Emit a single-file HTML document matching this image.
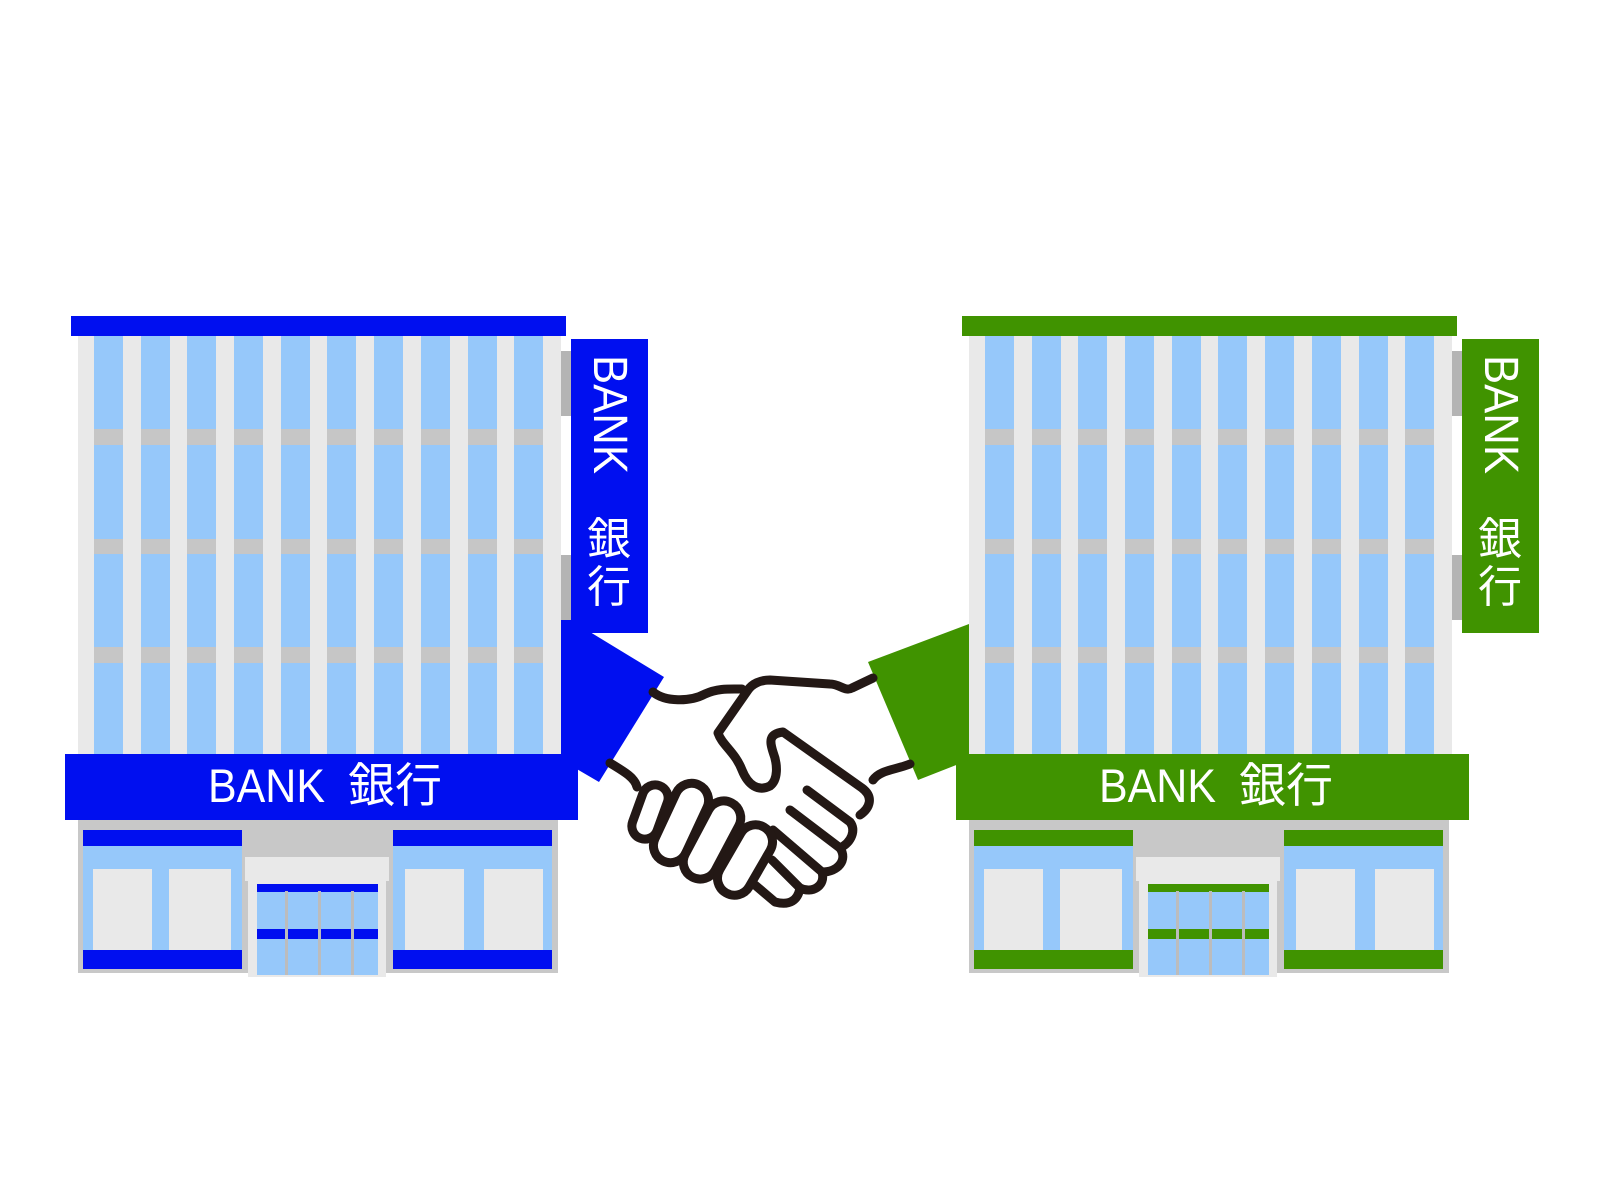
<!DOCTYPE html>
<html><head><meta charset="utf-8"><style>
html,body{margin:0;padding:0;background:#fff;width:1600px;height:1200px;overflow:hidden}
svg{display:block}
text{font-family:"Liberation Sans","Noto Sans CJK JP",sans-serif;fill:#fff}
</style></head><body>
<svg width="1600" height="1200" viewBox="0 0 1600 1200" xmlns="http://www.w3.org/2000/svg">
<defs>
<g id="bldg">
  <rect x="78" y="336" width="483" height="418" fill="#e9e9e9"/>
  <g fill="#96c8fa">
    <rect x="94" y="336" width="29" height="418"/><rect x="141" y="336" width="29" height="418"/>
    <rect x="187" y="336" width="29" height="418"/><rect x="234" y="336" width="29" height="418"/>
    <rect x="281" y="336" width="29" height="418"/><rect x="327" y="336" width="29" height="418"/>
    <rect x="374" y="336" width="29" height="418"/><rect x="421" y="336" width="29" height="418"/>
    <rect x="468" y="336" width="29" height="418"/><rect x="514" y="336" width="29" height="418"/>
  </g>
  <g fill="#c6c6c6">
    <rect x="94" y="429" width="449" height="16"/><rect x="94" y="539" width="449" height="15"/><rect x="94" y="647" width="449" height="16"/>
  </g>
  <g fill="#e9e9e9">
    <rect x="123" y="429" width="18" height="236"/><rect x="170" y="429" width="17" height="236"/><rect x="216" y="429" width="18" height="236"/>
    <rect x="263" y="429" width="18" height="236"/><rect x="310" y="429" width="17" height="236"/><rect x="356" y="429" width="18" height="236"/>
    <rect x="403" y="429" width="18" height="236"/><rect x="450" y="429" width="18" height="236"/><rect x="497" y="429" width="17" height="236"/>
  </g>
  <rect x="561" y="351" width="10" height="65" fill="#b4b4b4"/>
  <rect x="561" y="555" width="10" height="65" fill="#b4b4b4"/>
  <rect x="78" y="815" width="480" height="158" fill="#c8c8c8"/>
  <rect x="83" y="830" width="159" height="139" fill="#96c8fa"/>
  <rect x="93" y="869" width="59" height="81" fill="#e9e9e9"/><rect x="169" y="869" width="62" height="81" fill="#e9e9e9"/>
  <rect x="393" y="830" width="159" height="139" fill="#96c8fa"/>
  <rect x="405" y="869" width="59" height="81" fill="#e9e9e9"/><rect x="484" y="869" width="59" height="81" fill="#e9e9e9"/>
  <rect x="245" y="857" width="144" height="24" fill="#e9e9e9"/>
  <rect x="248" y="881" width="138" height="96" fill="#e9e9e9"/>
  <rect x="257" y="891" width="121" height="84" fill="#96c8fa"/>
</g>
<g id="dividers" fill="#bcbcbc"><rect x="285" y="891" width="3" height="84"/><rect x="318" y="891" width="3" height="84"/><rect x="351" y="891" width="3" height="84"/></g>
<g id="sign">
  <text transform="translate(594,355) rotate(90)" font-size="48" textLength="119" lengthAdjust="spacingAndGlyphs">BANK</text>
  <text x="587" y="554" font-size="44">銀</text>
  <text x="587" y="602" font-size="44">行</text>
  <text x="208" y="802" font-size="47" textLength="117" lengthAdjust="spacingAndGlyphs">BANK</text>
  <text x="348" y="802" font-size="47">銀行</text>
</g>
</defs>

<use href="#bldg"/>
<g fill="#000ff0">
  <rect x="71" y="316" width="495" height="20"/>
  <rect x="83" y="830" width="159" height="16"/><rect x="83" y="950" width="159" height="19"/>
  <rect x="393" y="830" width="159" height="16"/><rect x="393" y="950" width="159" height="19"/>
  <rect x="257" y="884" width="121" height="8"/><rect x="257" y="929" width="121" height="10"/>
  <rect x="571" y="339" width="77" height="294"/>
  <polygon points="561,620 571,620 571,632 590,632 664,677 599,782 575,768 575,775 561,775"/>
  <rect x="65" y="754" width="513" height="66"/>
</g>
<use href="#dividers"/>
<use href="#sign"/>

<g transform="translate(891,0)">
<use href="#bldg"/>
<g fill="#409300">
  <rect x="71" y="316" width="495" height="20"/>
  <rect x="83" y="830" width="159" height="16"/><rect x="83" y="950" width="159" height="19"/>
  <rect x="393" y="830" width="159" height="16"/><rect x="393" y="950" width="159" height="19"/>
  <rect x="257" y="884" width="121" height="8"/><rect x="257" y="929" width="121" height="10"/>
  <rect x="571" y="339" width="77" height="294"/>
  <rect x="65" y="754" width="513" height="66"/>
</g>
<use href="#dividers"/>
<use href="#sign"/>
</g>
<polygon points="868,662 969,624 969,760 918,780" fill="#409300"/>

<g fill="none" stroke="#231815" stroke-width="9" stroke-linecap="round" stroke-linejoin="round">
  <path d="M653,692 C665,702 690,702 705,694 C718,688 730,689 742,689"/>
  <path d="M873,678 L852,688 C845,692 840,684 830,684 L770,680 C760,680 752,684 748,690 L718,733 C722,745 735,752 742,770 C748,785 758,792 770,786 C778,780 778,765 773,752 C770,742 768,734 783,732 L862,788 C874,797 870,808 860,815"/>
  <path d="M610,763 C625,772 635,778 637,787"/>
  <path d="M873,780 C880,770 895,770 910,764"/>
  <path d="M807,790 L850,822 C856,830 852,842 840,848 L790,810"/>
  <path d="M840,848 C848,860 838,872 822,872 L773,830"/>
  <path d="M822,872 C826,886 812,894 800,888 L772,860"/>
  <path d="M800,888 C798,900 790,906 775,902 L755,885"/>
</g>
<g fill="#fff" stroke="#231815" stroke-width="9">
  <rect x="-13" y="-28" width="26" height="56" rx="13" transform="translate(650,812) rotate(20)"/>
  <rect x="-17" y="-42" width="34" height="84" rx="17" transform="translate(681,823) rotate(25)"/>
  <rect x="-17" y="-42" width="34" height="84" rx="17" transform="translate(712,840) rotate(28)"/>
  <rect x="-17" y="-38" width="34" height="76" rx="17" transform="translate(745,860) rotate(30)"/>
</g>
</svg>
</body></html>
